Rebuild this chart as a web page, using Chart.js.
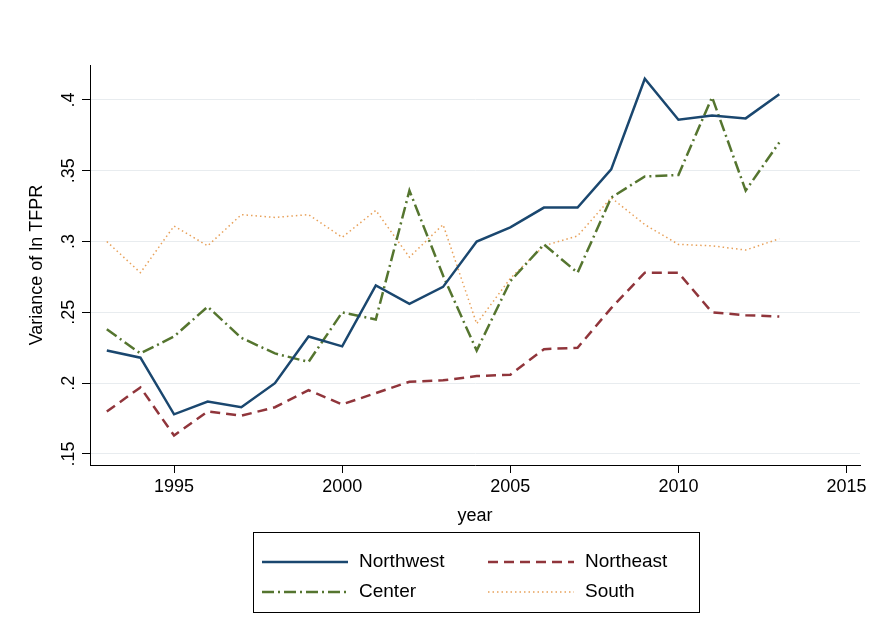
<!DOCTYPE html>
<html>
<head>
<meta charset="utf-8">
<script src="https://cdn.jsdelivr.net/npm/chart.js@4"></script>
<style>
  body { margin: 0; background: #fff; }
  #wrap { width: 871px; height: 639px; }
</style>
</head>
<body>
<div id="wrap"><canvas id="chart"></canvas></div>
<script>
// Years and variance of ln TFPR by region
const years = [1993, 1994, 1995, 1996, 1997, 1998, 1999, 2000, 2001, 2002, 2003,
               2004, 2005, 2006, 2007, 2008, 2009, 2010, 2011, 2012, 2013];
const northwest = [.223, .218, .178, .187, .183, .200, .233, .226, .269, .256, .268,
                   .300, .310, .324, .324, .351, .415, .386, .389, .387, .404];
const northeast = [.180, .197, .163, .180, .177, .183, .195, .185, .193, .201, .202,
                   .205, .206, .224, .225, .253, .278, .278, .250, .248, .247];
const center = [.238, .221, .233, .254, .232, .221, .215, .250, .245, .336, .276,
                .223, .272, .298, .278, .331, .346, .347, .402, .336, .370];
const south = [.300, .278, .311, .297, .319, .317, .319, .303, .322, .289, .312,
               .242, .274, .297, .304, .331, .312, .298, .297, .294, .302];
const xTicks = [1995, 2000, 2005, 2010, 2015];
const yTicks = [.15, .2, .25, .3, .35, .4];
const yTickLabels = ['.15', '.2', '.25', '.3', '.35', '.4'];

const FONT = '"Liberation Sans", Arial, sans-serif';

function pts(vals) {
    return vals.map((v, i) => ({ x: years[i], y: v }));
}

// Draws rotated y tick labels, axis titles and the boxed legend
const extras = {
    id: 'extras',
    afterDraw(chart) {
        const ctx = chart.ctx;
        const y = chart.scales.y;
        const area = chart.chartArea;
        ctx.save();
        ctx.fillStyle = '#000';
        ctx.font = '18px ' + FONT;
        ctx.textAlign = 'center';
        ctx.textBaseline = 'bottom';
        yTicks.forEach((t, i) => {
            ctx.save();
            ctx.translate(area.left - 12, y.getPixelForValue(t));
            ctx.rotate(-Math.PI / 2);
            ctx.fillText(yTickLabels[i], 0, 0);
            ctx.restore();
        });
        ctx.save();
        ctx.translate(46, (area.top + area.bottom) / 2);
        ctx.rotate(-Math.PI / 2);
        ctx.fillText('Variance of ln TFPR', 0, 0);
        ctx.restore();
        ctx.textBaseline = 'middle';
        ctx.fillText('year', (area.left + area.right) / 2, 516);

        // legend box
        ctx.strokeStyle = '#000';
        ctx.lineWidth = 1;
        ctx.strokeRect(253.5, 532.5, 446, 80);
        const items = chart.data.datasets;
        const pos = [[262, 562], [488, 562], [262, 592], [488, 592]];
        ctx.font = '19px ' + FONT;
        items.forEach((ds, i) => {
            const [px, py] = pos[i];
            ctx.beginPath();
            ctx.setLineDash(ds.borderDash || []);
            ctx.strokeStyle = ds.borderColor;
            ctx.lineWidth = ds.borderWidth;
            ctx.moveTo(px, py);
            ctx.lineTo(px + 86, py);
            ctx.stroke();
            ctx.setLineDash([]);
            ctx.fillStyle = '#000';
            ctx.textAlign = 'left';
            ctx.fillText(ds.label, px + 97, py);
        });
        ctx.restore();
    }
};

new Chart(document.getElementById('chart'), {
    type: 'line',
    data: {
        datasets: [
            { label: 'Northwest', data: pts(northwest), borderColor: '#1a476f', borderWidth: 2.5 },
            { label: 'Northeast', data: pts(northeast), borderColor: '#90353b', borderWidth: 2.5, borderDash: [10, 6] },
            { label: 'Center', data: pts(center), borderColor: '#55752f', borderWidth: 2.5, borderDash: [12, 4, 2, 4] },
            { label: 'South', data: pts(south), borderColor: '#e8a15a', borderWidth: 1.5, borderDash: [1.5, 3] }
        ]
    },
    options: {
        responsive: true,
        maintainAspectRatio: false,
        animation: false,
        elements: { point: { radius: 0 }, line: { tension: 0, fill: false } },
        layout: { padding: { top: 65, right: 11, bottom: 119, left: 0 } },
        plugins: { legend: { display: false }, tooltip: { enabled: false } },
        scales: {
            x: {
                type: 'linear', min: 1992.5, max: 2015.4,
                afterBuildTicks: s => { s.ticks = xTicks.map(v => ({ value: v })); },
                afterFit: s => { s.height = 55; },
                grid: { color: 'rgba(0,0,0,0)', drawOnChartArea: false, tickColor: '#000', tickLength: 8 },
                border: { color: '#000', width: 1 },
                ticks: { color: '#000', font: { size: 18, family: FONT }, callback: v => String(v), maxRotation: 0 }
            },
            y: {
                min: 0.1422, max: 0.4247,
                afterBuildTicks: s => { s.ticks = yTicks.map(v => ({ value: v })); },
                afterFit: s => { s.width = 90; },
                grid: { color: '#e8ecef', lineWidth: 1, tickColor: '#000', tickLength: 8 },
                border: { color: '#000', width: 1 },
                ticks: { display: false }
            }
        }
    },
    plugins: [extras]
});
</script>
</body>
</html>
